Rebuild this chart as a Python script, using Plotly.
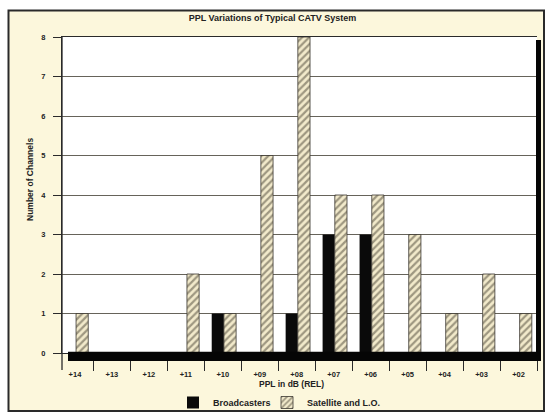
import plotly.graph_objects as go

categories = ["+14", "+13", "+12", "+11", "+10", "+09", "+08", "+07", "+06", "+05", "+04", "+03", "+02"]
broadcasters = [0, 0, 0, 0, 1, 0, 1, 3, 3, 0, 0, 0, 0]
satellite_lo = [1, 0, 0, 2, 1, 5, 8, 4, 4, 3, 1, 2, 1]
y_ticks = [0, 1, 2, 3, 4, 5, 6, 7, 8]

W, H = 545, 414
ML, MR, MT, MB = 62, 8, 37, 61
PW, PH = W - ML - MR, H - MT - MB

def px(x):
    return (x - ML) / PW

def py(y):
    return (H - MB - y) / PH

CREAM = "#fcf7dc"
INK = "#222222"
FONT = "Liberation Sans"

fig = go.Figure()
fig.add_trace(go.Bar(
    x=categories, y=broadcasters, name="Broadcasters", legend="legend", showlegend=True,
    marker=dict(color="#0a0a0a", line=dict(color="#0a0a0a", width=0)),
    width=0.33, offset=-0.3,
))
fig.add_trace(go.Bar(
    x=categories, y=satellite_lo, name="Satellite and L.O.", legend="legend2", showlegend=True,
    marker=dict(color="#f3ecce", line=dict(color="#3a3630", width=0.8),
                pattern=dict(shape="/", bgcolor="#f2eacb", fgcolor="#4a4436",
                             size=5, solidity=0.45)),
    width=0.33, offset=0.03,
))

shapes = [
    # white outside border
    dict(type="rect", xref="paper", yref="paper", x0=px(0), x1=px(8), y0=py(H), y1=py(0),
         fillcolor="white", line=dict(width=0), layer="below"),
    dict(type="rect", xref="paper", yref="paper", x0=px(0), x1=px(W), y0=py(10), y1=py(0),
         fillcolor="white", line=dict(width=0), layer="below"),
    dict(type="rect", xref="paper", yref="paper", x0=px(0), x1=px(W), y0=py(H), y1=py(412),
         fillcolor="white", line=dict(width=0), layer="below"),
    # border
    dict(type="rect", xref="paper", yref="paper", x0=px(8.5), x1=px(544), y0=py(411), y1=py(10.5),
         line=dict(color="#2a2a2a", width=2)),
    # 3D floor and right wall shadow
    dict(type="rect", xref="paper", yref="paper", x0=px(68), x1=px(541), y0=py(361), y1=py(351.8),
         fillcolor="#050505", line=dict(width=0), layer="above"),
    dict(type="rect", xref="paper", yref="paper", x0=px(536), x1=px(541), y0=py(361), y1=py(40),
         fillcolor="#050505", line=dict(width=0), layer="above"),
    # left axis extension
    dict(type="line", xref="paper", yref="paper", x0=0, x1=0, y0=py(370), y1=py(37),
         line=dict(color="#2a2a2a", width=1.3)),
]

legend_common = dict(orientation="h", xanchor="left", yanchor="top",
                     bgcolor="rgba(0,0,0,0)", font=dict(size=9), itemwidth=30)

fig.update_layout(
    width=W, height=H,
    showlegend=True,
    margin=dict(l=ML, r=MR, t=MT, b=MB, autoexpand=False),
    paper_bgcolor=CREAM, plot_bgcolor="white",
    barmode="overlay",
    font=dict(family=FONT, color=INK, size=8, weight="bold"),
    title=dict(text="PPL Variations of Typical CATV System", x=0.5, xanchor="center",
               y=1 - 18 / H, yanchor="middle", font=dict(size=9, family=FONT, weight="bold")),
    xaxis=dict(type="category", categoryorder="array", categoryarray=categories,
               range=[-0.35, 12.5], tickson="boundaries", ticks="outside", ticklen=17,
               tickwidth=1, tickcolor="#2a2a2a", showgrid=False, showline=True, mirror=True,
               linecolor="#2a2a2a", linewidth=1.2, tickfont=dict(size=7.5),
               ticklabelstandoff=14, automargin=False, fixedrange=True),
    yaxis=dict(range=[0, 8], tickvals=y_ticks, ticks="outside", ticklen=8, tickwidth=1,
               tickcolor="#2a2a2a", showline=True, linecolor="#2a2a2a", linewidth=1.3,
               gridcolor="#66635a", gridwidth=1.1, zeroline=False, tickfont=dict(size=7.5),
               ticklabelstandoff=6, automargin=False, fixedrange=True),
    legend=dict(x=px(173), y=py(388), **legend_common),
    legend2=dict(x=px(267), y=py(388), **legend_common),
    shapes=shapes,
    annotations=[
        dict(text="Number of Channels", textangle=-90, xref="paper", yref="paper",
             x=px(30), y=py(180), showarrow=False, xanchor="center", yanchor="middle",
             font=dict(size=8.5)),
        dict(text="PPL in dB (REL)", xref="paper", yref="paper",
             x=px(291), y=py(384), showarrow=False, xanchor="center", yanchor="middle",
             font=dict(size=8.5)),
    ],
)

fig.write_html("out.html", post_script="document.body.style.margin='0';",
               config={"displayModeBar": False})
